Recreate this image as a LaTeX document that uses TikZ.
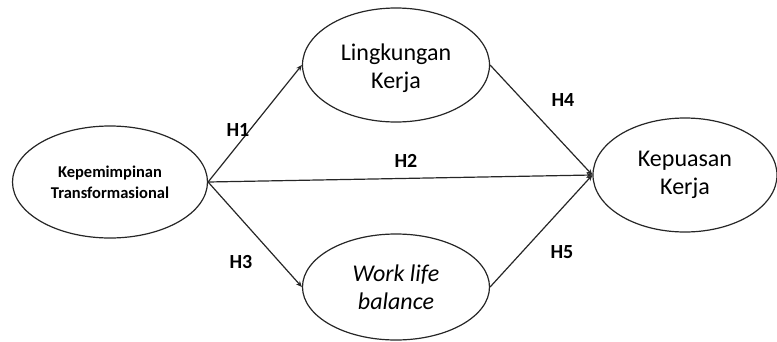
\documentclass[tikz,border=0pt]{standalone}
\usepackage{fontspec}
\setmainfont{Carlito}
\usetikzlibrary{shapes.geometric,arrows.meta}
\begin{document}
\begin{tikzpicture}[x=1pt,y=-1pt,
  construct/.style={draw=black!85, ellipse, line width=1.2pt, inner sep=0pt, align=center},
  path/.style={draw=black!85, line width=1.2pt, -{Stealth[length=6pt,width=5pt]}},
  hlabel/.style={font=\fontsize{20}{20}\selectfont\bfseries}]
\useasboundingbox (0,0) rectangle (777,341);
\node[construct, minimum width=195pt, minimum height=112pt,
  font=\fontsize{16.5}{21}\selectfont\bfseries] (kt) at (110,182) {Kepemimpinan\\Transformasional};
\node[construct, minimum width=187pt, minimum height=114pt] (lk) at (396,65) {};
\node[font=\fontsize{24}{28}\selectfont, align=center] (lkt) at (396,68) {Lingkungan\\Kerja};
\node[construct, minimum width=187pt, minimum height=106pt,
  font=\fontsize{24}{28}\selectfont] (wlb) at (396,287) {\textit{Work life}\\\textit{balance}};
\node[construct, minimum width=184pt, minimum height=114pt,
  font=\fontsize{24}{28}\selectfont] (kk) at (685,175) {Kepuasan\\Kerja};
\path[path] (kt.east) -- (lk.west);
\path[path] (kt.east) -- (wlb.west);
\path[path] (kt.east) -- (kk.west);
\path[path] (lk.east) -- (kk.west);
\path[path] (wlb.east) -- (kk.west);
\node[hlabel] (h1) at (238,130) {H1};
\node[hlabel] (h2) at (406,161) {H2};
\node[hlabel] (h3) at (241,262) {H3};
\node[hlabel] (h4) at (563,100) {H4};
\node[hlabel] (h5) at (562,252) {H5};
\end{tikzpicture}
\end{document}
